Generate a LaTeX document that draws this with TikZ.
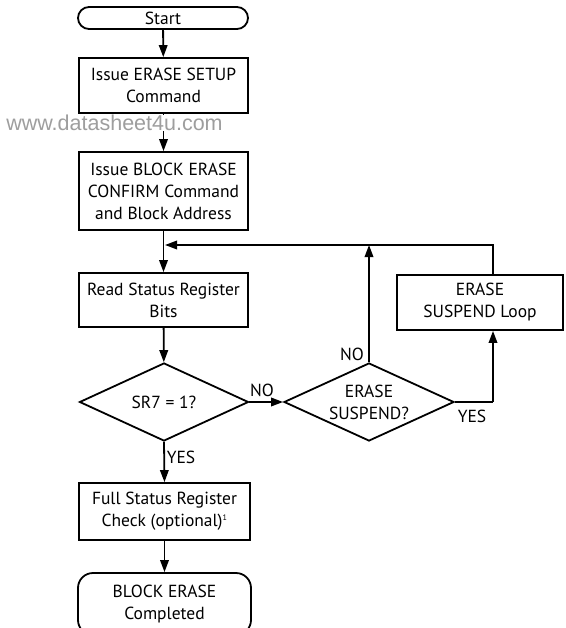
\documentclass[tikz,border=0pt]{standalone}
\usepackage{fontspec}
\setmainfont{PT Sans}
\newfontfamily\wmfont{Liberation Sans}
\usetikzlibrary{shapes.geometric,arrows.meta,calc}
\tikzset{
  every node/.style={font=\fontsize{17.5}{22}\selectfont, align=center, inner sep=0pt},
  boxnode/.style={draw, line width=1.8pt, rectangle, minimum width=169pt},
  termnode/.style={draw, line width=1.8pt, rectangle, rounded corners=#1, minimum width=170pt},
  decnode/.style={draw, line width=1.8pt, diamond, minimum width=169pt, minimum height=78pt},
  arr/.style={line width=1.8pt, -{Triangle[length=12pt,width=8.5pt]}},
  ln/.style={line width=1.8pt},
  lbl/.style={font=\fontsize{17.5}{20}\selectfont}
}
\begin{document}
\begin{tikzpicture}[x=1pt,y=-1pt]
\useasboundingbox (0,0) rectangle (565,628);
\begin{scope}
\clip (0,0) rectangle (565,628);
\node[termnode=11pt, minimum height=22pt] (start) at (163,18) {Start};
\node[boxnode, minimum height=55pt] (b1) at (163.5,85.5) {Issue ERASE SETUP\\Command};
\node[boxnode, minimum height=78pt] (b2) at (163.5,191) {Issue BLOCK ERASE\\CONFIRM Command\\and Block Address};
\node[boxnode, minimum height=54pt] (read) at (163.5,300) {Read Status Register\\Bits};
\node[decnode, label={center:SR7 = 1?}] (sr7) at (164,402) {};
\node[decnode, minimum width=170pt, label={center:ERASE\\SUSPEND?}] (es) at (369,402) {};
\node[boxnode, minimum width=166pt, minimum height=55pt] (loop) at (480,302.5) {ERASE\\SUSPEND Loop};
\node[boxnode, minimum width=171pt, minimum height=57pt] (full) at (164.5,511.5) {Full Status Register\\Check (optional)\textsuperscript{\fontsize{8}{8}\selectfont 1}};
\node[termnode=15pt, minimum width=173pt, minimum height=62pt] (done) at (164.5,604) {BLOCK ERASE\\Completed};

\coordinate (ret) at (164,245);
\coordinate (c1) at (493,402);

\draw[arr] (start) -- (b1);
\draw[arr] (b1) -- (b2);
\draw[arr] (b2) -- (read);
\draw[arr] (read) -- (sr7);
\draw[arr] (sr7.east) -- (es.west);
\draw[arr] (sr7.south) -- (full.north);
\draw[arr] (full) -- (done);
\draw[arr] (es.north) -- (es.north |- ret);
\draw[ln] (es.east) -- (c1);
\draw[arr] (c1) -- (c1 |- loop.south);
\draw[arr] (c1 |- loop.north) -- (c1 |- ret) -- ($(ret)+(1,0)$);

\node[lbl] (no1) at (262,390) {NO};
\node[lbl] (no2) at (352,354) {NO};
\node[lbl] (yes1) at (472,416) {YES};
\node[lbl] (yes2) at (181,457) {YES};

\node[font=\wmfont\fontsize{21.5}{22}\selectfont, text=black!38, fill=white, anchor=north] (wm) at (114.5,114.6) {www.datasheet4u.com};
\end{scope}
\end{tikzpicture}
\end{document}
